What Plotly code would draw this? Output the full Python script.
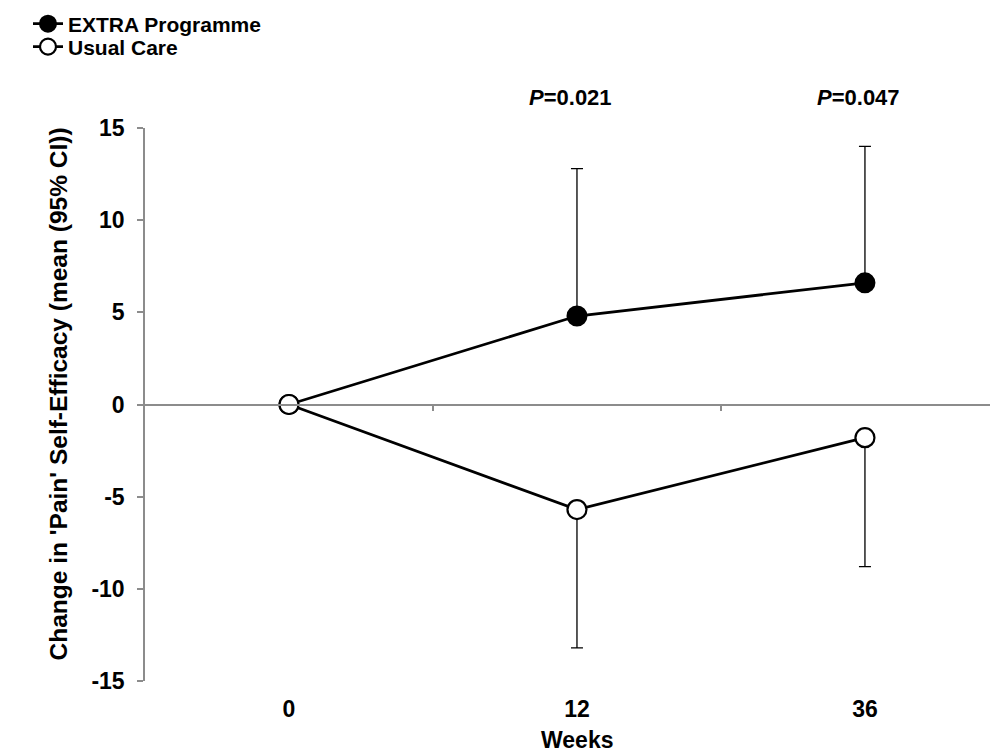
import plotly.graph_objects as go

weeks = ["0", "12", "36"]
extra_mean = [0, 4.8, 6.6]
extra_upper = [0, 12.8, 14.0]
usual_mean = [0, -5.7, -1.8]
usual_lower = [0, -13.2, -8.8]
p_labels = ["", "<i>P</i>=0.021", "<i>P</i>=0.047"]

xpos = list(range(len(weeks)))
FONT = "Liberation Sans, Arial, sans-serif"

# page body has an 8px margin: size the figure so the plot lands where the reference has it
OFF = 8
W, H = 998 - OFF, 754 - OFF

fig = go.Figure()
fig.add_trace(go.Scatter(
    x=xpos, y=extra_mean, name="<b>EXTRA Programme</b>", mode="lines+markers",
    legend="legend",
    line=dict(color="black", width=2.8),
    marker=dict(symbol="circle", size=19, color="black", line=dict(color="black", width=2)),
    error_y=dict(type="data", symmetric=False,
                 array=[u - m for u, m in zip(extra_upper, extra_mean)],
                 arrayminus=[0] * len(extra_mean),
                 color="black", thickness=1.3, width=6),
))
fig.add_trace(go.Scatter(
    x=xpos, y=usual_mean, name="<b>Usual Care</b>", mode="lines+markers",
    legend="legend2",
    line=dict(color="black", width=2.8),
    marker=dict(symbol="circle", size=19, color="white", line=dict(color="black", width=2.2)),
    error_y=dict(type="data", symmetric=False,
                 array=[0] * len(usual_mean),
                 arrayminus=[m - l for m, l in zip(usual_mean, usual_lower)],
                 color="black", thickness=1.3, width=6),
))
# invisible trace for the zero-crossing axis
fig.add_trace(go.Scatter(x=[0], y=[0], xaxis="x2", mode="markers",
                         marker=dict(opacity=0), showlegend=False, hoverinfo="skip"))

for i, p in enumerate(p_labels):
    if p:
        fig.add_annotation(x=xpos[i], y=1.0, yref="paper", yshift=31, xshift=-6, yanchor="middle",
                           text="<b>" + p + "</b>", showarrow=False,
                           font=dict(family=FONT, size=22, color="black"))

# axis titles
fig.add_annotation(x=1, y=0, yref="paper", yshift=-59, yanchor="middle",
                   text="<b>Weeks</b>", showarrow=False,
                   font=dict(family=FONT, size=23, color="black"))
fig.add_annotation(x=0, xref="paper", y=0.5, yref="paper", xshift=-87, yshift=10,
                   xanchor="center", yanchor="middle", textangle=-90,
                   text="<b>Change in 'Pain' Self-Efficacy (mean (95% CI))</b>", showarrow=False,
                   font=dict(family=FONT, size=24.5, color="black"))

leg_common = dict(xref="container", yref="container", xanchor="left", yanchor="middle",
                  font=dict(family=FONT, size=21, color="black"),
                  bgcolor="rgba(0,0,0,0)", itemwidth=30)
xr = [-0.5, 2.462]
fig.update_layout(
    width=W, height=H,
    margin=dict(l=145 - OFF, r=0, t=128 - OFF, b=H - (681 - OFF), autoexpand=False),
    plot_bgcolor="white", paper_bgcolor="white",
    font=dict(family=FONT, color="black"),
    showlegend=True,
    legend=dict(x=20 / W, y=1 - (24 - OFF) / H, **leg_common),
    legend2=dict(x=20 / W, y=1 - (47 - OFF) / H, **leg_common),
    xaxis=dict(range=xr, tickvals=xpos, ticktext=["<b>%s</b>" % w for w in weeks],
               showline=False, showgrid=False, zeroline=False, ticks="",
               ticklabelstandoff=12,
               tickfont=dict(family=FONT, size=23, color="black")),
    xaxis2=dict(range=xr, overlaying="x", anchor="free", position=0.5, side="bottom",
                showline=True, linecolor="#8c8c8c", linewidth=1.5,
                tickvals=[0.5, 1.5], ticktext=["", ""], ticks="outside", ticklen=6,
                tickcolor="#8c8c8c", tickwidth=1.5, showgrid=False, zeroline=False),
    yaxis=dict(range=[-15, 15], tickvals=[-15, -10, -5, 0, 5, 10, 15],
               ticktext=["<b>%d</b>" % v for v in [-15, -10, -5, 0, 5, 10, 15]],
               showline=True, linecolor="#8c8c8c", linewidth=1.5,
               ticks="outside", ticklen=6, tickcolor="#8c8c8c", tickwidth=1.5,
               ticklabelstandoff=8,
               showgrid=False, zeroline=False,
               tickfont=dict(family=FONT, size=23, color="black")),
)

fig.write_html("out.html")
